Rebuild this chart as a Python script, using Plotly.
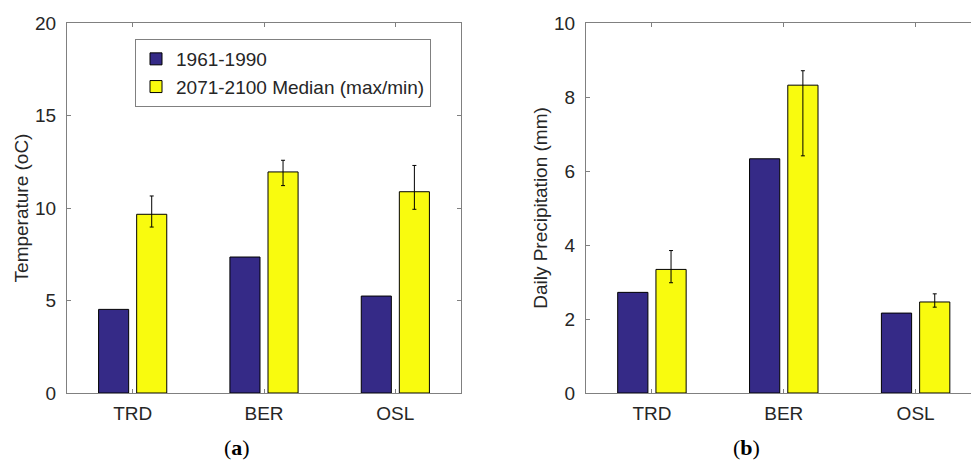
import plotly.graph_objects as go

categories = ["TRD", "BER", "OSL"]
series_names = ["1961-1990", "2071-2100 Median (max/min)"]

temp_base = [4.52, 7.35, 5.24]
temp_future = [9.66, 11.95, 10.88]
temp_future_max = [10.65, 12.58, 12.30]
temp_future_min = [8.97, 11.21, 9.93]

prec_base = [2.72, 6.33, 2.16]
prec_future = [3.34, 8.32, 2.46]
prec_future_max = [3.85, 8.71, 2.68]
prec_future_min = [2.98, 6.41, 2.32]

temp_ticks = [0, 5, 10, 15, 20]
prec_ticks = [0, 2, 4, 6, 8, 10]

BLUE = "#352a87"
YELLOW = "#f9fb0e"
AXIS = "#808080"
TXT = "#262626"
FONT = "Liberation Sans, Arial"
FS = 19

W, H = 971, 461
xpos = [1, 2, 3]

fig = go.Figure()

def add_panel(xa, ya, base, fut, fmax, fmin, showlegend):
    fig.add_trace(go.Bar(
        x=xpos, y=base, name=series_names[0], marker=dict(color=BLUE, line=dict(color="black", width=1)),
        xaxis=xa, yaxis=ya, showlegend=showlegend, offsetgroup="a"))
    fig.add_trace(go.Bar(
        x=xpos, y=fut, name=series_names[1], marker=dict(color=YELLOW, line=dict(color="black", width=1)),
        error_y=dict(type="data", symmetric=False,
                     array=[a - b for a, b in zip(fmax, fut)],
                     arrayminus=[b - c for b, c in zip(fut, fmin)],
                     color="black", thickness=1, width=2),
        xaxis=xa, yaxis=ya, showlegend=showlegend, offsetgroup="b"))

add_panel("x", "y", temp_base, temp_future, temp_future_max, temp_future_min, True)
add_panel("x2", "y2", prec_base, prec_future, prec_future_max, prec_future_min, False)

ydom = [(H - 393) / H, (H - 23) / H]
common_x = dict(tickmode="array", tickvals=xpos, ticktext=categories, ticks="inside", ticklen=4,
                tickcolor=AXIS, showline=True, linecolor=AXIS, linewidth=1, mirror="ticks",
                showgrid=False, zeroline=False, tickfont=dict(family=FONT, size=FS, color=TXT),
                ticklabelstandoff=3)
common_y = dict(ticks="inside", ticklen=4, tickcolor=AXIS, showline=True, linecolor=AXIS, linewidth=1,
                showgrid=False, zeroline=False, tickfont=dict(family=FONT, size=FS, color=TXT),
                ticklabelstandoff=6, domain=ydom)

fig.update_layout(
    width=W, height=H,
    margin=dict(l=0, r=0, t=0, b=0, autoexpand=False),
    paper_bgcolor="white", plot_bgcolor="white",
    barmode="group", bargap=0.42, bargroupgap=0.21,
    xaxis=dict(domain=[67 / W, 461 / W], range=[0.5, 3.5], anchor="y", **common_x),
    yaxis=dict(range=[0, 20], tickvals=temp_ticks, anchor="x", mirror="ticks",
               title=dict(text="Temperature (oC)", font=dict(family=FONT, size=FS, color=TXT), standoff=1),
               **common_y),
    xaxis2=dict(domain=[586 / W, 1.0], range=[0.5, 3.42], anchor="y2", **common_x),
    yaxis2=dict(range=[0, 10], tickvals=prec_ticks, anchor="x2", mirror=False,
                title=dict(text="Daily Precipitation (mm)", font=dict(family=FONT, size=FS, color=TXT), standoff=1),
                **common_y),
    legend=dict(x=135 / W, y=(H - 39) / H, xanchor="left", yanchor="top",
                bgcolor="white", bordercolor=AXIS, borderwidth=1,
                font=dict(family=FONT, size=FS, color=TXT),
                tracegroupgap=0, itemwidth=30),
    showlegend=True,
)

for label, xc in [("(<b>a</b>)", 237), ("(<b>b</b>)", 746)]:
    fig.add_annotation(x=xc / W, y=0, xref="paper", yref="paper", text=label,
                       xanchor="center", yanchor="bottom", yshift=0, borderpad=0,
                       showarrow=False, font=dict(family="Liberation Serif, Times New Roman", size=22, color="black"))

fig.write_html("out.html")
